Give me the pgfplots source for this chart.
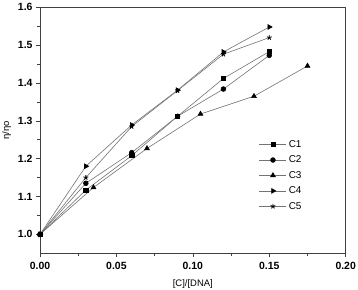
\documentclass[border=0pt]{standalone}
\usepackage{pgfplots}
\pgfplotsset{compat=1.18}
\usepackage{fontspec}
\setmainfont{Liberation Sans}
\usetikzlibrary{calc}
\begin{document}
\begin{tikzpicture}
\begin{axis}[
  scale only axis,
  width=305.7bp, height=246bp,
  xmin=0, xmax=0.2, ymin=0.95, ymax=1.6,
  xtick={0,0.05,0.1,0.15,0.2},
  ytick={1.0,1.1,1.2,1.3,1.4,1.5,1.6},
  minor x tick num=1, minor y tick num=1,
  axis line style={line width=0.7pt, black!75},
  tick style={line width=0.6pt, black!75},
  tick align=outside,
  major tick length=4bp, minor tick length=2.5bp,
  xtick pos=bottom, ytick pos=left,
  tick label style={font=\fontsize{10.5}{12}\selectfont\bfseries},
  xticklabel style={yshift=-1.5bp, /pgf/number format/.cd, fixed, fixed zerofill, precision=2, assume math mode=true},
  yticklabel style={/pgf/number format/.cd, fixed, fixed zerofill, precision=1, assume math mode=true},
  xlabel={[C]/[DNA]},
  xlabel style={yshift=-3.5bp},
  ylabel={η/ηo},
  label style={font=\fontsize{9.5}{11}\selectfont},
  legend style={draw=none, fill=none, at={(rel axis cs:0.713,0.472)}, anchor=north west,
    font=\fontsize{10}{11}\selectfont, row sep=3bp, inner sep=1bp},
  legend cell align=left,
  legend image code/.code={\draw[mark repeat=2,mark phase=2] plot coordinates {(0bp,0bp)(13.5bp,0bp)(27bp,0bp)};},
  every axis plot/.append style={line width=0.6pt, color=black!55, mark size=2.4pt, mark options={black, fill=black}},
]
\addplot[mark=square*, mark size=2.1pt] coordinates {(0,1.0) (0.03,1.117) (0.06,1.208) (0.09,1.312) (0.12,1.412) (0.15,1.483)};
\addlegendentry{C1}
\addplot[mark=*] coordinates {(0,1.0) (0.03,1.135) (0.06,1.216) (0.09,1.312) (0.12,1.384) (0.15,1.473)};
\addlegendentry{C2}
\addplot[mark=triangle*, mark size=2.8pt] coordinates {(0,1.0) (0.035,1.124) (0.07,1.227) (0.105,1.318) (0.14,1.365) (0.175,1.445)};
\addlegendentry{C3}
\addplot[mark=triangle*, mark size=2.8pt, mark options={rotate=-90, black, fill=black}] coordinates {(0,1.0) (0.03,1.180) (0.06,1.289) (0.09,1.381) (0.12,1.482) (0.15,1.548)};
\addlegendentry{C4}
\addplot[mark=star, mark size=2.5pt, mark options={black, line width=0.9pt}] coordinates {(0,1.0) (0.03,1.150) (0.06,1.285) (0.09,1.380) (0.12,1.476) (0.15,1.520)};
\addlegendentry{C5}
\end{axis}
\pgfresetboundingbox
\path ($(current axis.south west)+(-40bp,-36.7bp)$) rectangle ($(current axis.north east)+(12.3bp,7.3bp)$);
\end{tikzpicture}
\end{document}
